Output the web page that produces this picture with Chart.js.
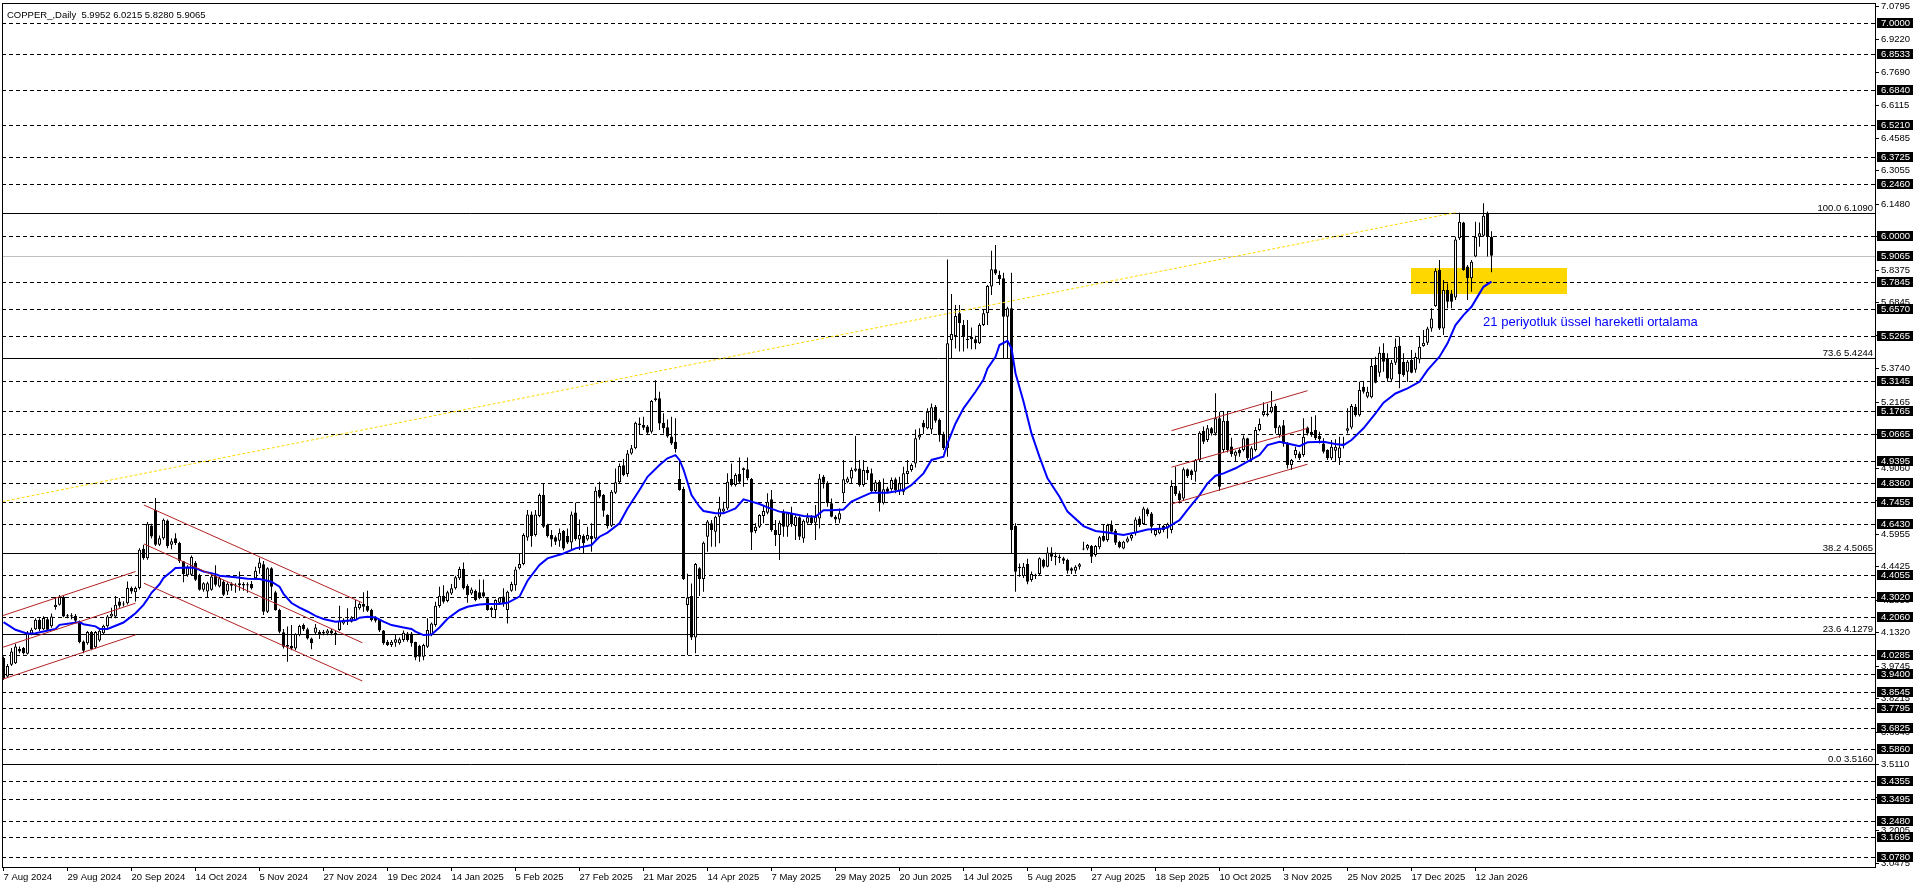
<!DOCTYPE html>
<html><head><meta charset="utf-8">
<script src="https://cdn.jsdelivr.net/npm/chart.js@4.4.1/dist/chart.umd.min.js"></script>
<style>html,body{margin:0;padding:0;background:#fff;overflow:hidden}#wrap{position:relative;width:1916px;height:888px}</style>
</head><body><div id="wrap"><canvas id="c" width="1916" height="888"></canvas></div>
<script>
const TITLE = 'COPPER_,Daily  5.9952 6.0215 5.8280 5.9065';
const DATES = ['7 Aug 2024','29 Aug 2024','20 Sep 2024','14 Oct 2024','5 Nov 2024','27 Nov 2024','19 Dec 2024','14 Jan 2025','5 Feb 2025','27 Feb 2025','21 Mar 2025','14 Apr 2025','7 May 2025','29 May 2025','20 Jun 2025','14 Jul 2025','5 Aug 2025','27 Aug 2025','18 Sep 2025','10 Oct 2025','3 Nov 2025','25 Nov 2025','17 Dec 2025','12 Jan 2026'];
const DATE_STEP = 16;

const OPEN = [
4.013,3.926,3.981,3.989,4.056,4.060,4.033,4.127,4.149,4.193,
4.149,4.196,4.162,4.253,4.264,4.300,4.214,4.209,4.212,4.185,
4.091,4.083,4.135,4.064,4.096,4.130,4.162,4.209,4.209,4.279,
4.270,4.271,4.342,4.322,4.342,4.527,4.483,4.637,4.711,4.546,
4.577,4.660,4.546,4.577,4.554,4.468,4.403,4.405,4.460,4.403,
4.334,4.326,4.334,4.400,4.350,4.373,4.326,4.362,4.353,4.357,
4.361,4.354,4.361,4.388,4.435,4.454,4.231,4.435,4.322,4.239,
4.134,4.074,4.071,4.058,4.121,4.168,4.148,4.105,4.132,4.137,
4.129,4.129,4.142,4.132,4.145,4.176,4.184,4.184,4.192,4.247,
4.267,4.258,4.239,4.207,4.192,4.142,4.090,4.074,4.085,4.082,
4.098,4.129,4.129,4.088,4.071,4.019,4.066,4.121,4.168,4.258,
4.306,4.281,4.317,4.341,4.388,4.432,4.352,4.317,4.330,4.322,
4.322,4.294,4.250,4.239,4.273,4.302,4.239,4.330,4.356,4.435,
4.455,4.580,4.689,4.592,4.681,4.780,4.639,4.592,4.581,4.565,
4.611,4.587,4.557,4.698,4.571,4.587,4.571,4.587,4.576,4.804,
4.780,4.686,4.636,4.791,4.840,4.920,4.879,4.976,5.000,5.117,
5.110,5.102,5.078,5.235,5.235,5.120,5.099,5.055,5.031,4.855,
4.808,4.262,4.305,4.110,4.435,4.385,4.584,4.647,4.607,4.678,
4.702,4.717,4.855,4.827,4.879,4.898,4.901,4.855,4.611,4.631,
4.681,4.697,4.760,4.615,4.592,4.697,4.631,4.694,4.634,4.675,
4.576,4.650,4.675,4.650,4.670,4.866,4.838,4.741,4.678,4.665,
4.788,4.840,4.858,4.894,4.905,4.827,4.898,4.882,4.799,4.843,
4.741,4.811,4.807,4.854,4.800,4.796,4.879,4.898,4.929,5.051,
5.120,5.094,5.089,5.196,5.133,5.067,5.000,5.510,5.528,5.635,
5.580,5.516,5.525,5.513,5.494,5.580,5.635,5.761,5.842,5.815,
5.800,5.619,5.659,4.634,4.443,4.399,4.455,4.380,4.399,4.408,
4.474,4.443,4.510,4.487,4.490,4.482,4.474,4.435,4.424,4.443,
4.524,4.529,4.540,4.498,4.534,4.587,4.568,4.639,4.612,4.560,
4.529,4.560,4.576,4.600,4.670,4.644,4.713,4.693,4.592,4.600,
4.634,4.623,4.615,4.822,4.788,4.764,4.901,4.895,4.890,4.945,
5.081,5.039,5.094,5.070,5.141,4.992,5.130,5.008,4.965,4.992,
4.992,5.047,4.945,4.992,5.086,5.157,5.164,5.172,5.199,5.062,
5.109,5.023,4.921,4.968,4.976,4.968,5.098,5.078,5.086,5.058,
5.023,4.992,4.953,4.989,4.953,5.018,5.083,5.098,5.196,5.156,
5.290,5.243,5.240,5.392,5.356,5.450,5.420,5.324,5.403,5.483,
5.407,5.360,5.415,5.370,5.418,5.481,5.497,5.564,5.670,5.839,
5.564,5.745,5.729,5.710,5.988,6.062,5.855,5.800,5.902,5.996,
6.000,6.109,5.9952];
const HIGH = [
4.020,3.985,4.060,4.080,4.067,4.065,4.140,4.155,4.200,4.200,
4.210,4.205,4.222,4.300,4.310,4.305,4.220,4.224,4.220,4.190,
4.095,4.140,4.140,4.140,4.150,4.170,4.215,4.250,4.305,4.295,
4.280,4.373,4.350,4.350,4.530,4.546,4.653,4.645,4.766,4.590,
4.670,4.665,4.575,4.600,4.560,4.470,4.450,4.495,4.470,4.410,
4.370,4.372,4.405,4.450,4.395,4.380,4.370,4.370,4.365,4.420,
4.370,4.370,4.375,4.443,4.485,4.470,4.440,4.440,4.330,4.245,
4.150,4.161,4.168,4.130,4.170,4.175,4.155,4.110,4.173,4.145,
4.145,4.150,4.150,4.140,4.259,4.200,4.247,4.210,4.286,4.275,
4.322,4.330,4.245,4.210,4.195,4.145,4.098,4.098,4.121,4.110,
4.142,4.135,4.135,4.090,4.075,4.080,4.200,4.180,4.278,4.349,
4.356,4.330,4.361,4.400,4.443,4.463,4.360,4.345,4.335,4.383,
4.383,4.300,4.255,4.290,4.300,4.341,4.330,4.372,4.443,4.505,
4.600,4.710,4.702,4.710,4.787,4.835,4.645,4.615,4.590,4.623,
4.615,4.623,4.702,4.744,4.665,4.595,4.631,4.647,4.819,4.843,
4.785,4.690,4.804,4.905,4.929,4.950,4.992,5.015,5.125,5.145,
5.149,5.110,5.227,5.320,5.266,5.165,5.136,5.149,5.141,4.945,
4.819,4.410,4.364,4.460,4.440,4.561,4.663,4.663,4.683,4.772,
4.749,4.882,4.929,4.882,4.957,4.910,4.957,4.860,4.647,4.690,
4.733,4.788,4.804,4.662,4.660,4.712,4.700,4.725,4.685,4.680,
4.665,4.694,4.686,4.733,4.879,4.874,4.845,4.764,4.685,4.717,
4.945,4.866,4.910,5.058,4.945,4.945,4.913,4.905,4.851,4.851,
4.858,4.819,4.863,4.863,4.866,4.913,4.945,4.929,5.089,5.094,
5.133,5.188,5.211,5.204,5.140,5.078,5.889,5.726,5.674,5.674,
5.604,5.604,5.569,5.530,5.588,5.654,5.768,5.930,5.957,5.836,
5.826,5.666,5.826,4.647,4.458,4.460,4.480,4.420,4.410,4.487,
4.480,4.534,4.534,4.510,4.500,4.490,4.480,4.440,4.450,4.460,
4.560,4.550,4.545,4.545,4.587,4.640,4.645,4.660,4.620,4.565,
4.565,4.585,4.600,4.675,4.680,4.725,4.720,4.700,4.620,4.640,
4.640,4.650,4.850,4.913,4.800,4.910,4.905,4.900,4.950,5.080,
5.102,5.110,5.100,5.259,5.172,5.172,5.172,5.050,4.990,5.000,
5.060,5.050,5.010,5.100,5.140,5.217,5.210,5.270,5.210,5.110,
5.133,5.030,4.950,5.007,4.985,5.141,5.102,5.149,5.156,5.078,
5.047,4.995,5.039,5.042,5.054,5.054,5.188,5.208,5.208,5.313,
5.313,5.290,5.423,5.431,5.478,5.494,5.447,5.415,5.517,5.525,
5.447,5.415,5.462,5.450,5.525,5.557,5.572,5.659,5.847,5.886,
5.792,5.776,5.745,5.996,6.109,6.066,5.863,5.886,6.066,6.062,
6.153,6.114,6.0215];
const LOW = [
3.910,3.920,3.975,3.985,4.036,4.030,4.030,4.120,4.145,4.140,
4.145,4.140,4.155,4.240,4.260,4.205,4.200,4.196,4.180,4.083,
4.036,4.075,4.050,4.058,4.090,4.125,4.155,4.200,4.200,4.250,
4.255,4.265,4.315,4.279,4.335,4.475,4.475,4.575,4.540,4.540,
4.570,4.530,4.525,4.545,4.460,4.370,4.395,4.400,4.375,4.330,
4.325,4.295,4.330,4.350,4.345,4.305,4.310,4.330,4.320,4.330,
4.330,4.320,4.335,4.380,4.410,4.215,4.225,4.286,4.235,4.130,
4.058,3.996,4.050,4.050,4.115,4.140,4.100,4.054,4.125,4.102,
4.120,4.120,4.120,4.074,4.140,4.170,4.168,4.180,4.188,4.240,
4.231,4.230,4.185,4.180,4.135,4.075,4.070,4.065,4.066,4.075,
4.090,4.090,4.066,4.003,3.996,4.003,4.060,4.115,4.160,4.250,
4.270,4.275,4.310,4.335,4.380,4.335,4.273,4.310,4.280,4.290,
4.295,4.235,4.205,4.200,4.265,4.254,4.176,4.325,4.330,4.430,
4.450,4.565,4.537,4.585,4.675,4.625,4.580,4.537,4.545,4.537,
4.520,4.550,4.521,4.565,4.521,4.505,4.565,4.513,4.570,4.765,
4.678,4.623,4.630,4.785,4.835,4.868,4.866,4.970,4.995,5.063,
5.086,5.065,5.070,5.220,5.086,5.070,5.050,5.015,4.980,4.800,
4.380,4.027,4.098,4.035,4.305,4.325,4.513,4.537,4.537,4.553,
4.695,4.710,4.820,4.820,4.835,4.819,4.850,4.521,4.600,4.625,
4.647,4.690,4.607,4.540,4.474,4.584,4.584,4.631,4.568,4.568,
4.556,4.645,4.639,4.568,4.623,4.811,4.725,4.675,4.647,4.647,
4.749,4.835,4.835,4.890,4.819,4.819,4.851,4.788,4.790,4.702,
4.735,4.788,4.800,4.788,4.780,4.780,4.835,4.890,4.910,5.040,
5.067,5.090,5.067,5.120,5.031,4.992,4.960,5.423,5.470,5.455,
5.455,5.470,5.466,5.466,5.491,5.575,5.580,5.721,5.815,5.768,
5.423,5.423,4.505,4.325,4.396,4.390,4.360,4.372,4.385,4.400,
4.435,4.440,4.470,4.450,4.460,4.455,4.410,4.408,4.410,4.430,
4.520,4.520,4.460,4.490,4.525,4.560,4.560,4.600,4.545,4.530,
4.525,4.555,4.565,4.590,4.630,4.640,4.680,4.600,4.585,4.595,
4.605,4.575,4.600,4.775,4.740,4.757,4.860,4.851,4.843,4.940,
5.020,5.030,5.060,5.060,4.800,4.980,4.980,4.960,4.940,4.960,
4.985,4.945,4.940,4.985,5.080,5.150,5.150,5.165,5.070,5.050,
5.007,4.905,4.898,4.953,4.945,4.960,5.060,5.054,5.039,5.023,
4.976,4.945,4.945,4.937,4.921,4.999,5.070,5.090,5.149,5.150,
5.258,5.235,5.235,5.306,5.337,5.360,5.313,5.313,5.392,5.282,
5.337,5.313,5.353,5.355,5.400,5.478,5.486,5.549,5.666,5.557,
5.533,5.659,5.659,5.698,5.980,5.836,5.698,5.737,5.899,5.949,
5.996,5.902,5.828];
const CLOSE = [
3.918,3.976,4.044,4.067,4.044,4.036,4.133,4.146,4.193,4.149,
4.201,4.146,4.209,4.264,4.300,4.209,4.209,4.214,4.188,4.088,
4.047,4.135,4.056,4.135,4.141,4.165,4.209,4.221,4.264,4.259,
4.265,4.342,4.326,4.342,4.522,4.483,4.645,4.585,4.546,4.577,
4.664,4.540,4.562,4.554,4.468,4.409,4.444,4.488,4.381,4.334,
4.365,4.365,4.397,4.358,4.388,4.311,4.362,4.353,4.357,4.365,
4.354,4.360,4.341,4.424,4.462,4.231,4.435,4.349,4.239,4.137,
4.066,4.066,4.058,4.126,4.164,4.148,4.105,4.082,4.157,4.126,
4.137,4.142,4.129,4.121,4.189,4.192,4.192,4.204,4.254,4.267,
4.254,4.236,4.192,4.189,4.142,4.082,4.074,4.090,4.101,4.101,
4.132,4.098,4.082,4.016,4.019,4.074,4.145,4.176,4.259,4.306,
4.278,4.322,4.341,4.393,4.432,4.341,4.309,4.336,4.286,4.294,
4.302,4.239,4.239,4.286,4.298,4.270,4.325,4.361,4.430,4.455,
4.592,4.689,4.587,4.689,4.780,4.631,4.587,4.571,4.560,4.603,
4.528,4.557,4.689,4.573,4.592,4.553,4.592,4.573,4.800,4.772,
4.706,4.634,4.796,4.840,4.917,4.874,4.976,5.000,5.120,5.110,
5.097,5.073,5.222,5.227,5.117,5.094,5.055,5.023,4.997,4.804,
4.385,4.298,4.110,4.455,4.385,4.556,4.655,4.615,4.678,4.717,
4.717,4.843,4.827,4.874,4.843,4.906,4.859,4.604,4.631,4.686,
4.705,4.749,4.615,4.592,4.650,4.631,4.694,4.643,4.678,4.584,
4.659,4.675,4.647,4.678,4.858,4.838,4.741,4.678,4.665,4.694,
4.854,4.858,4.898,4.905,4.827,4.898,4.882,4.799,4.840,4.744,
4.807,4.796,4.851,4.804,4.835,4.882,4.894,4.921,5.047,5.062,
5.098,5.172,5.193,5.130,5.062,5.000,5.494,5.538,5.622,5.588,
5.525,5.510,5.513,5.494,5.580,5.635,5.764,5.842,5.823,5.795,
5.619,5.659,4.615,4.419,4.435,4.443,4.372,4.408,4.405,4.482,
4.443,4.510,4.490,4.493,4.482,4.471,4.424,4.424,4.443,4.454,
4.529,4.545,4.490,4.540,4.581,4.565,4.639,4.607,4.556,4.534,
4.560,4.576,4.592,4.665,4.639,4.717,4.691,4.631,4.615,4.623,
4.615,4.644,4.822,4.785,4.757,4.901,4.870,4.874,4.945,5.073,
5.031,5.094,5.070,5.141,4.819,5.130,4.992,4.973,4.984,4.976,
5.047,4.953,5.000,5.086,5.114,5.172,5.157,5.196,5.094,5.102,
5.023,4.921,4.945,4.992,4.953,5.054,5.070,5.062,5.047,5.042,
4.984,4.953,5.007,5.007,5.004,5.023,5.094,5.199,5.156,5.274,
5.266,5.266,5.387,5.309,5.450,5.407,5.329,5.403,5.478,5.349,
5.345,5.407,5.356,5.430,5.478,5.497,5.564,5.611,5.836,5.564,
5.745,5.690,5.690,5.983,6.066,5.839,5.800,5.878,5.996,6.012,
6.094,5.996,5.9065];

const EMA_BAR = [0,3,6,8,10,13,14,17,19,20,23,24,26,28,30,32,33,35,36,37,39,40,42,43,47,48,50,53,54,58,61,
64,67,69,70,72,74,76,78,80,83,85,88,89,91,93,95,97,100,102,103,105,107,109,111,114,116,119,121,124,
126,129,131,134,136,140,143,147,149,151,154,156,159,161,164,166,168,169,170,172,174,175,178,180,183,185,187,189,
191,194,196,200,203,205,207,210,212,215,217,221,225,227,230,232,235,236,238,240,243,245,246,248,249,251,252,253,
255,257,259,261,264,266,270,273,276,280,283,286,290,291,294,296,299,301,303,305,308,311,314,316,319,
321,324,326,330,333,335,337,340,343,345,348,351,354,356,359,361,363,365,367,369,370,372];
const EMA_VALUE = [4.182,4.146,4.127,4.130,4.138,4.150,4.169,4.177,4.182,4.172,4.162,4.150,4.150,4.165,4.180,4.209,4.224,4.263,4.290,4.320,4.360,4.390,4.420,4.437,4.439,4.436,4.420,4.408,4.400,4.393,4.386,
4.385,4.372,4.349,4.315,4.272,4.250,4.232,4.211,4.197,4.184,4.187,4.192,4.203,4.207,4.204,4.184,4.168,4.157,4.150,4.137,4.121,4.124,4.157,4.198,4.239,4.254,4.265,4.267,4.267,
4.273,4.302,4.377,4.451,4.482,4.505,4.529,4.545,4.584,4.603,4.647,4.717,4.804,4.866,4.921,4.953,4.968,4.945,4.900,4.780,4.725,4.705,4.694,4.694,4.717,4.760,4.749,4.738,
4.722,4.702,4.697,4.681,4.678,4.709,4.709,4.712,4.749,4.775,4.791,4.791,4.804,4.827,4.882,4.945,4.960,5.023,5.117,5.188,5.266,5.324,5.376,5.431,5.486,5.506,5.470,5.353,
5.220,5.070,4.960,4.859,4.772,4.702,4.634,4.611,4.604,4.592,4.604,4.618,4.623,4.628,4.662,4.710,4.780,4.835,4.871,4.882,4.906,4.937,4.968,5.015,5.031,
5.023,5.010,5.028,5.031,5.020,5.015,5.039,5.094,5.164,5.215,5.258,5.282,5.313,5.368,5.431,5.494,5.580,5.627,5.666,5.729,5.760,5.7845];

const TICKS = [7.0795,6.9220,6.7690,6.6115,6.4585,6.3055,6.1480,5.9950,5.8375,5.6845,5.5315,5.3740,5.2165,5.0635,4.9060,4.7530,4.5955,4.4425,4.2850,4.1320,3.9745,3.8215,3.6640,3.5110,3.3580,3.2005,3.0475];
const LEVELS = [7.0000,6.8533,6.6840,6.5210,6.3725,6.2460,6.0000,5.7845,5.6570,5.5265,5.3145,5.1765,5.0665,4.9395,4.8360,4.7455,4.6430,4.4055,4.3020,4.2060,4.0285,3.9400,3.8545,3.7795,3.6825,3.5860,3.4355,3.3495,3.2480,3.1695,3.0780];
const CURRENT = 5.9065;
const FIB_LEVELS = [6.1090,5.4244,4.5065,4.1279,3.5160];
const FIB_PCT = ['100.0','73.6','38.2','23.6','0.0'];
const CHANNEL_BARS = [[-0.1,33],[35.1,89.7],[292,326]];
const CHANNEL_PRICES = [
  [[4.213,4.420],[4.064,4.271],[3.914,4.122]],
  [[4.733,4.273],[4.550,4.085],[4.365,3.905]],
  [[5.083,5.271],[4.911,5.094],[4.738,4.925]]];
const TREND_BARS = [-0.375,363];
const TREND_PRICES = [4.749,6.109];
const ZONE_BARS = [351.9,390.8];
const ZONE_PRICES = [5.7275,5.850];
const NOTE = '21 periyotluk üssel hareketli ortalama';
const NOTE_BAR = 369.9, NOTE_PRICE = 5.590;

const FONT = "'Liberation Sans', Arial, sans-serif";
const AXFONT = 9.5;
const P = (s, v) => s.getPixelForValue(v);

const overlay = {
  id: 'overlay',
  beforeDatasetsDraw(chart) {
    const {ctx, chartArea: a, scales: {x, y}} = chart;
    ctx.save();
    ctx.beginPath(); ctx.rect(a.left, a.top, a.right - a.left, a.bottom - a.top); ctx.clip();
    const zx1 = Math.round(P(x, ZONE_BARS[0])), zx2 = Math.round(P(x, ZONE_BARS[1]));
    const zy1 = Math.round(P(y, ZONE_PRICES[1])), zy2 = Math.round(P(y, ZONE_PRICES[0]));
    ctx.fillStyle = '#FFD700';
    ctx.fillRect(zx1, zy1, zx2 - zx1, zy2 - zy1);
    ctx.lineWidth = 1;
    const hline = (v, color, dash) => {
      const yy = Math.round(P(y, v)) + 0.5;
      ctx.strokeStyle = color; ctx.setLineDash(dash);
      ctx.beginPath(); ctx.moveTo(a.left, yy); ctx.lineTo(a.right, yy); ctx.stroke();
    };
    LEVELS.forEach(v => hline(v, '#000', [4, 3]));
    hline(CURRENT, '#C0C0C0', []);
    FIB_LEVELS.forEach(v => hline(v, '#000', []));
    ctx.restore();
  },
  afterDatasetsDraw(chart) {
    const {ctx, chartArea: a, scales: {x, y}} = chart;
    ctx.save();
    ctx.beginPath(); ctx.rect(a.left, a.top, a.right - a.left, a.bottom - a.top); ctx.clip();
    ctx.lineWidth = 1; ctx.strokeStyle = '#B22222'; ctx.setLineDash([]);
    CHANNEL_BARS.forEach((b, k) => CHANNEL_PRICES[k].forEach(p => {
      ctx.beginPath(); ctx.moveTo(P(x, b[0]), P(y, p[0])); ctx.lineTo(P(x, b[1]), P(y, p[1])); ctx.stroke();
    }));
    ctx.strokeStyle = '#FFD700'; ctx.setLineDash([3, 2]);
    ctx.beginPath(); ctx.moveTo(P(x, TREND_BARS[0]), P(y, TREND_PRICES[0])); ctx.lineTo(P(x, TREND_BARS[1]), P(y, TREND_PRICES[1])); ctx.stroke();
    ctx.setLineDash([]);
    ctx.font = '13px ' + FONT; ctx.fillStyle = '#0000FF'; ctx.textBaseline = 'middle'; ctx.textAlign = 'left';
    ctx.fillText(NOTE, P(x, NOTE_BAR), P(y, NOTE_PRICE));
    ctx.font = AXFONT + 'px ' + FONT; ctx.fillStyle = '#000'; ctx.textAlign = 'right'; ctx.textBaseline = 'alphabetic';
    FIB_LEVELS.forEach((v, k) => ctx.fillText(FIB_PCT[k] + ' ' + v.toFixed(4), a.right - 2, Math.round(P(y, v)) - 2));
    ctx.restore();
  },
  afterDraw(chart) {
    const {ctx, chartArea: a, scales: {y}} = chart;
    ctx.save();
    ctx.strokeStyle = '#000'; ctx.lineWidth = 1;
    ctx.strokeRect(a.left + 0.5, a.top + 0.5, a.right - a.left, a.bottom - a.top);
    ctx.font = AXFONT + 'px ' + FONT; ctx.fillStyle = '#000'; ctx.textBaseline = 'middle'; ctx.textAlign = 'left';
    ctx.fillText(TITLE, a.left + 5, a.top + 12);
    [...LEVELS, CURRENT].forEach(v => {
      const yy = Math.round(P(y, v));
      ctx.fillStyle = '#000'; ctx.fillRect(a.right + 2, yy - 5, 36, 10);
      ctx.fillStyle = '#fff'; ctx.fillText(v.toFixed(4), a.right + 6, yy + 0.5);
    });
    ctx.restore();
  }
};

const idx = CLOSE.map((c, i) => i);
const bodyData = idx.map(i => ({x: i, y: [OPEN[i], CLOSE[i]]}));
const wickData = idx.map(i => ({x: i, y: [LOW[i], HIGH[i]]}));
const bodyFill = idx.map(i => CLOSE[i] >= OPEN[i] ? '#FFFFFF' : '#000000');
const emaData = EMA_BAR.map((b, k) => ({x: b, y: EMA_VALUE[k]}));

Chart.defaults.font.family = FONT;
new Chart(document.getElementById('c'), {
  type: 'bar',
  data: {datasets: [
    {type: 'line', data: emaData, borderColor: '#0000FF', borderWidth: 2, pointRadius: 0, tension: 0, order: 0},
    {type: 'bar', data: bodyData, backgroundColor: bodyFill, borderColor: '#000', borderWidth: 1, borderSkipped: false,
     barThickness: 3, grouped: false, minBarLength: 1, inflateAmount: 0, order: 1},
    {type: 'bar', data: wickData, backgroundColor: '#000', borderWidth: 0, barThickness: 1, grouped: false, inflateAmount: 0, order: 2}
  ]},
  options: {
    responsive: false, animation: false, devicePixelRatio: 1,
    layout: {padding: {left: 2, top: 3, right: 0, bottom: 0}},
    plugins: {legend: {display: false}, tooltip: {enabled: false}},
    scales: {
      x: {type: 'linear', position: 'bottom', min: -0.375, max: 467.875, offset: false,
        afterBuildTicks: s => { s.ticks = DATES.map((d, k) => ({value: k * DATE_STEP})); },
        afterFit: s => { s.height = 21; s.paddingLeft = 0; s.paddingRight = 0; },
        ticks: {autoSkip: false, maxRotation: 0, minRotation: 0, align: 'start', padding: 1, color: '#000',
          font: {family: FONT, size: AXFONT}, callback: (v, k) => DATES[k]},
        grid: {drawOnChartArea: false, drawTicks: true, tickLength: 4, color: '#000', offset: false},
        border: {display: true, color: '#000', width: 1}},
      y: {type: 'linear', position: 'right', min: 3.0296, max: 7.0955, beginAtZero: false,
        afterBuildTicks: s => { s.ticks = TICKS.map(v => ({value: v})); },
        afterFit: s => { s.width = 41; s.paddingTop = 0; s.paddingBottom = 0; },
        ticks: {autoSkip: false, padding: 2, color: '#000', font: {family: FONT, size: AXFONT}, callback: v => Number(v).toFixed(4)},
        grid: {drawOnChartArea: false, drawTicks: true, tickLength: 4, color: '#000'},
        border: {display: true, color: '#000', width: 1}}
    }
  },
  plugins: [overlay]
});
</script></body></html>
